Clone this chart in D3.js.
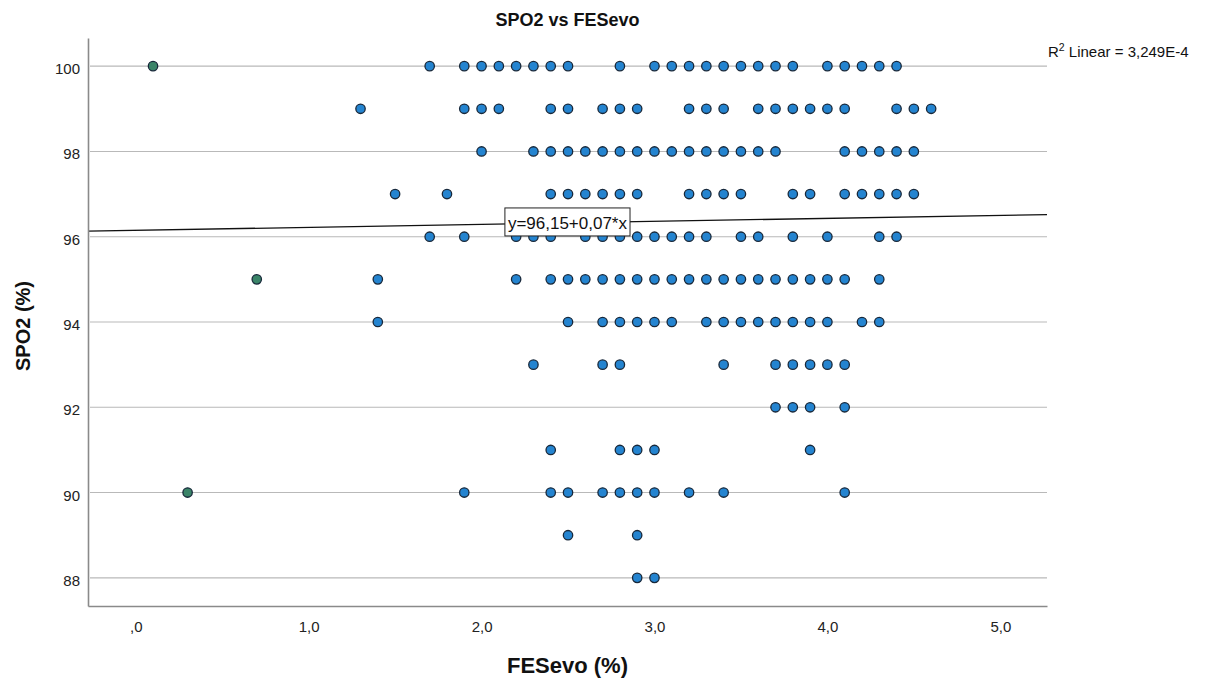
<!DOCTYPE html>
<html>
<head>
<meta charset="utf-8">
<script src="https://cdn.jsdelivr.net/npm/d3@7"></script>
<style>
  html, body { margin: 0; padding: 0; background: #fff; }
  svg { display: block; font-family: "Liberation Sans", Arial, sans-serif; }
</style>
</head>
<body>
<svg id="chart" width="1206" height="680"></svg>
<script>
// ---- Data ----
const spo2Levels = [100, 99, 98, 97, 96, 95, 94, 93, 92, 91, 90, 89, 88];
const fesevo100 = [0.1,1.7,1.9,2.0,2.1,2.2,2.3,2.4,2.5,2.8,3.0,3.1,3.2,3.3,3.4,3.5,3.6,3.7,3.8,4.0,4.1,4.2,4.3,4.4];
const fesevo99  = [1.3,1.9,2.0,2.1,2.4,2.5,2.7,2.8,2.9,3.2,3.3,3.4,3.6,3.7,3.8,3.9,4.0,4.1,4.4,4.5,4.6];
const fesevo98  = [2.0,2.3,2.4,2.5,2.6,2.7,2.8,2.9,3.0,3.1,3.2,3.3,3.4,3.5,3.6,3.7,4.1,4.2,4.3,4.4,4.5];
const fesevo97  = [1.5,1.8,2.4,2.5,2.6,2.7,2.8,2.9,3.2,3.3,3.4,3.5,3.8,3.9,4.1,4.2,4.3,4.4,4.5];
const fesevo96  = [1.7,1.9,2.2,2.3,2.4,2.6,2.7,2.8,2.9,3.0,3.1,3.2,3.3,3.5,3.6,3.8,4.0,4.3,4.4];
const fesevo95  = [0.7,1.4,2.2,2.4,2.5,2.6,2.7,2.8,2.9,3.0,3.1,3.2,3.3,3.4,3.5,3.6,3.7,3.8,3.9,4.0,4.1,4.3];
const fesevo94  = [1.4,2.5,2.7,2.8,2.9,3.0,3.1,3.3,3.4,3.5,3.6,3.7,3.8,3.9,4.0,4.2,4.3];
const fesevo93  = [2.3,2.7,2.8,3.4,3.7,3.8,3.9,4.0,4.1];
const fesevo92  = [3.7,3.8,3.9,4.1];
const fesevo91  = [2.4,2.8,2.9,3.0,3.9];
const fesevo90  = [0.3,1.9,2.4,2.5,2.7,2.8,2.9,3.0,3.2,3.4,4.1];
const fesevo89  = [2.5,2.9];
const fesevo88  = [2.9,3.0];
const fesevoRows = [fesevo100, fesevo99, fesevo98, fesevo97, fesevo96, fesevo95, fesevo94,
                    fesevo93, fesevo92, fesevo91, fesevo90, fesevo89, fesevo88];
const outlierX = [0.1, 0.7, 0.3];          // the three green-coloured cases at low FESevo
const yTicks = [88, 90, 92, 94, 96, 98, 100];
const xTicks = [0, 1, 2, 3, 4, 5];
const fitCoef = [96.15, 0.07];             // intercept, slope
const fitLabel = "y=96,15+0,07*x";
const r2Value = "3,249E-4";
const titleText = "SPO2 vs FESevo";
const xTitle = "FESevo (%)";
const yTitle = "SPO2 (%)";

// build point table
const points = [];
spo2Levels.forEach((lvl, i) => fesevoRows[i].forEach(v => points.push({x: v, y: lvl})));

// ---- Layout ----
const svg = d3.select("#chart");
const plot = {left: 88, right: 1047, top: 38, bottom: 606};
const x = d3.scaleLinear().domain([-0.276, 5.27]).range([plot.left, plot.right]);
const y = d3.scaleLinear().domain([87.34, 100.66]).range([plot.bottom, plot.top]);

// gridlines
svg.append("g").selectAll("line").data(yTicks).join("line")
  .attr("x1", plot.left + 2).attr("x2", plot.right)
  .attr("y1", d => y(d)).attr("y2", d => y(d))
  .attr("stroke", "#b9b9b9").attr("stroke-width", 1.1);

// regression line
const xd = x.domain();
svg.append("line")
  .attr("x1", x(xd[0])).attr("y1", y(fitCoef[0] + fitCoef[1] * xd[0]))
  .attr("x2", x(xd[1])).attr("y2", y(fitCoef[0] + fitCoef[1] * xd[1]))
  .attr("stroke", "#111").attr("stroke-width", 1.3);

// points
svg.append("g").selectAll("circle").data(points).join("circle")
  .attr("cx", d => x(d.x)).attr("cy", d => y(d.y)).attr("r", 4.7)
  .attr("fill", d => (d.x < 1 && outlierX.includes(d.x)) ? "#3a8468" : "#2484d0")
  .attr("stroke", "#18283a").attr("stroke-width", 1.3);

// axes
const yAxis = svg.append("g").attr("transform", `translate(${plot.left},0)`)
  .call(d3.axisLeft(y).tickValues(yTicks).tickSize(0).tickSizeOuter(0).tickPadding(8));
yAxis.selectAll("text").attr("dy", "0.5em").attr("font-size", 15).attr("fill", "#222")
  .attr("font-family", '"Liberation Sans", Arial, sans-serif');
yAxis.select(".domain").attr("stroke", "#8a8a8a").attr("stroke-width", 1.6);

const fmt = d => d === 0 ? ",0" : d.toFixed(1).replace(".", ",");
const xAxis = svg.append("g").attr("transform", `translate(0,${plot.bottom})`)
  .call(d3.axisBottom(x).tickValues(xTicks).tickFormat(fmt).tickSize(0).tickSizeOuter(0).tickPadding(15));
xAxis.selectAll("text").attr("font-size", 15).attr("fill", "#222")
  .attr("font-family", '"Liberation Sans", Arial, sans-serif');
xAxis.select(".domain").attr("stroke", "#8a8a8a").attr("stroke-width", 1.6);

// fit label box
const lblG = svg.append("g");
const lx = x(2.135);
const ly = y(fitCoef[0] + fitCoef[1] * 2.135);
const lblT = lblG.append("text").attr("x", lx + 3).attr("y", ly + 5)
  .attr("font-size", 17).attr("fill", "#111").text(fitLabel);
const tw = lblT.node().getComputedTextLength();
lblG.insert("rect", "text").attr("x", lx).attr("y", ly - 16).attr("width", tw + 6).attr("height", 28)
  .attr("fill", "#fff").attr("stroke", "#222").attr("stroke-width", 1);

// R2 label
const r2 = svg.append("text").attr("x", 1048).attr("y", 57).attr("font-size", 15).attr("fill", "#111");
r2.append("tspan").text("R");
r2.append("tspan").attr("dy", -6).attr("font-size", 10.5).text("2");
r2.append("tspan").attr("dy", 6).text(" Linear = " + r2Value);

// titles
svg.append("text").attr("x", (plot.left + plot.right) / 2).attr("y", 26).attr("text-anchor", "middle")
  .attr("font-size", 18).attr("font-weight", "bold").attr("fill", "#111").text(titleText);
svg.append("text").attr("x", (plot.left + plot.right) / 2).attr("y", 673).attr("text-anchor", "middle")
  .attr("font-size", 22).attr("font-weight", "bold").attr("fill", "#111").text(xTitle);
svg.append("text").attr("transform", `translate(30,${(plot.top + plot.bottom) / 2 + 4}) rotate(-90)`)
  .attr("text-anchor", "middle")
  .attr("font-size", 20).attr("font-weight", "bold").attr("fill", "#111").text(yTitle);
</script>
</body>
</html>
